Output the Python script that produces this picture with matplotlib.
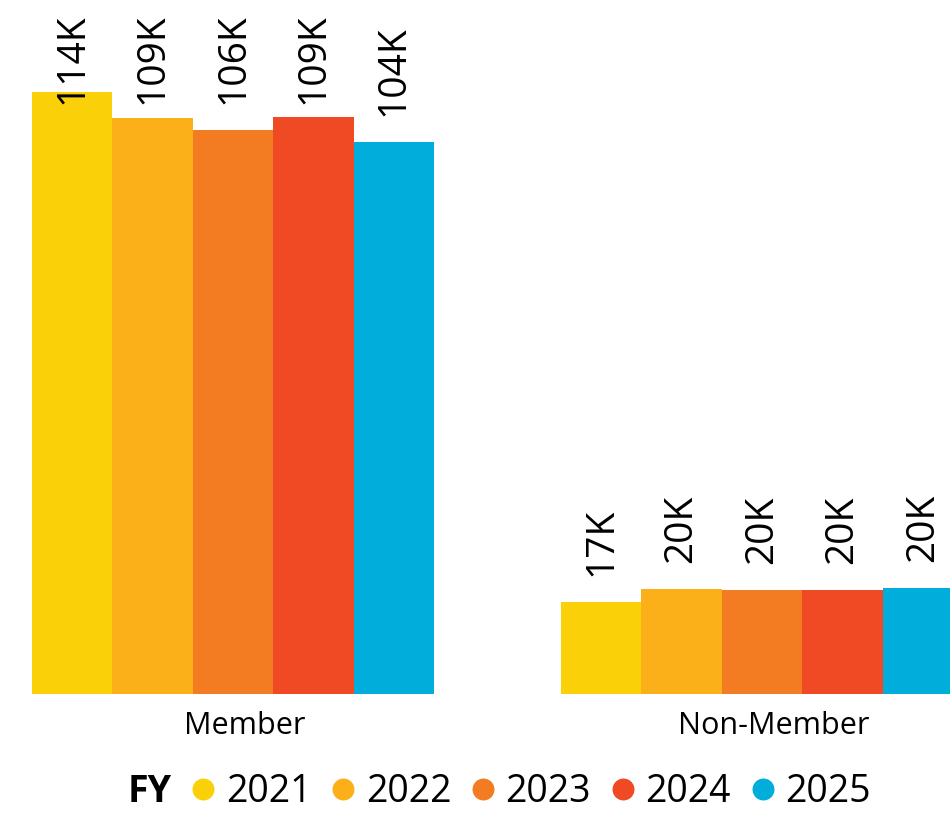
import numpy as np
import matplotlib.pyplot as plt
from matplotlib.lines import Line2D

plt.rcParams['font.family'] = ['Open Sans', 'DejaVu Sans']

# dados (milhares)
categories = ['Member', 'Non-Member']
years = ['2021', '2022', '2023', '2024', '2025']
colors = ['#FAD108', '#FBB01A', '#F37C22', '#EF4A24', '#00ADDB']
values = {
    '2021': [113.6, 17.4],
    '2022': [108.6, 19.8],
    '2023': [106.4, 19.6],
    '2024': [108.8, 19.7],
    '2025': [104.2, 20.0],
}

W, H = 950, 816
fig = plt.figure(figsize=(W / 100, H / 100), dpi=100)

base_px = 694
ax = fig.add_axes([0, (H - base_px) / H, 1, base_px / H])

bar_w = 1.0
px_per_unit = 80.4
group_x = np.array([2.5, 2.5 + 529 / px_per_unit])
ymax = base_px / 5.3

label_h = 17.0     # altura do rótulo em K
gap = 26 / 5.3
top_limit = (base_px - 13) / 5.3

for i, yr in enumerate(years):
    xs = group_x + (i - 2) * bar_w
    ax.bar(xs, values[yr], width=bar_w, color=colors[i], linewidth=0)
    for x, v in zip(xs, values[yr]):
        txt = f'{round(v)}K'
        if v + gap + label_h > top_limit:
            ax.text(x, top_limit, txt, rotation=90, ha='center', va='top',
                    fontsize=28, color='black')
        else:
            ax.text(x, v + gap, txt, rotation=90, ha='center', va='bottom',
                    fontsize=28, color='black')

ax.set_xlim(-32 / px_per_unit, (W - 32) / px_per_unit)
ax.set_ylim(0, ymax)
ax.set_xticks(group_x + 0.14)
ax.set_xticklabels(categories, fontsize=22)
ax.tick_params(axis='x', length=0, pad=12)
ax.set_yticks([])
for s in ax.spines.values():
    s.set_visible(False)

# legenda
fig.text(128 / W, 1 - 792 / H, 'FY', fontsize=27, fontweight='bold',
         ha='left', va='center')
handles = [Line2D([], [], marker='o', linestyle='', markersize=15.8,
                  markerfacecolor=c, markeredgewidth=0) for c in colors]
fig.legend(handles, years, loc='center left', ncol=5,
           bbox_to_anchor=(192 / W, 1 - 792 / H), frameon=False,
           fontsize=27, handlelength=0.6, handletextpad=0.3,
           columnspacing=0.55, borderpad=0, borderaxespad=0)

plt.savefig('out.png', dpi=100)
